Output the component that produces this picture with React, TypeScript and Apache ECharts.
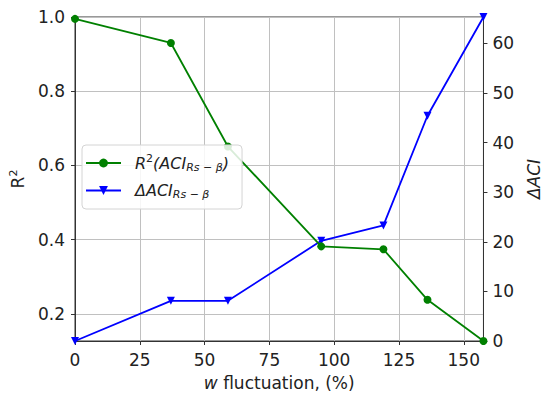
import { useEffect, useRef } from "react";
import * as echarts from "echarts";

const fluctuation = [0, 37, 59, 95, 119, 136, 157.6];
const r2Values = [0.995, 0.93, 0.651, 0.382, 0.374, 0.238, 0.127];
const deltaAci = [0, 8.1, 8.1, 20.2, 23.3, 45.4, 65.3];

const FONT = "DejaVu Sans";
const TEXT = "#222222";

const App: React.FC = () => {
  const chartRef = useRef<HTMLDivElement>(null);

  useEffect(() => {
    const chart = echarts.init(chartRef.current, null, { renderer: "svg" });

    const richLegend = {
      i: { fontSize: 16, fontStyle: "italic", fontFamily: FONT, color: TEXT, lineHeight: 20 },
      sup: { fontSize: 11, fontFamily: FONT, color: TEXT, padding: [0, 0, 9, 0] },
      sub: { fontSize: 11, fontStyle: "italic", fontFamily: FONT, color: TEXT, padding: [8, 0, 0, 0] },
      g: { width: 9 },
    };

    const options = {
      animation: false,
      grid: {
        left: 73,
        right: 62,
        top: 17,
        bottom: 60,
        show: true,
        borderColor: "#333",
        borderWidth: 1,
      },
      legend: {
        left: 82,
        top: 145,
        orient: "vertical",
        padding: [8, 13, 9, 3],
        itemWidth: 35,
        itemHeight: 11,
        itemGap: 10,
        backgroundColor: "rgba(255,255,255,0.85)",
        borderColor: "#d4d4d4",
        borderWidth: 1,
        borderRadius: 4,
        formatter: (name: string) =>
          name === "r2"
            ? "{g| }{i|R}{sup|2}{i|(ACI}{sub|Rs − β}{i|)}"
            : "{g| }{i|ΔACI}{sub|Rs − β}",
        textStyle: { rich: richLegend },
      },
      xAxis: {
        type: "value",
        min: 0,
        max: 157.6,
        interval: 25,
        name: "{i|w} fluctuation, (%)",
        nameLocation: "middle",
        nameGap: 33,
        nameTextStyle: {
          fontSize: 17,
          fontFamily: FONT,
          color: TEXT,
          rich: { i: { fontSize: 17, fontStyle: "italic", fontFamily: FONT, color: TEXT } },
        },
        axisLine: { lineStyle: { color: "#333" } },
        axisTick: { length: 4, lineStyle: { color: "#333" } },
        axisLabel: {
          showMaxLabel: false,
          margin: 10,
          fontSize: 17,
          fontFamily: FONT,
          color: TEXT,
        },
        splitLine: { lineStyle: { color: "#c0c0c0" } },
      },
      yAxis: [
        {
          type: "value",
          position: "left",
          min: 0.127,
          max: 1.0,
          splitNumber: 5,
          name: "R{sup|2}",
          nameLocation: "middle",
          nameRotate: 90,
          nameGap: 47,
          nameTextStyle: {
            fontSize: 17,
            fontFamily: FONT,
            color: TEXT,
            rich: { sup: { fontSize: 11, fontFamily: FONT, color: TEXT, padding: [0, 0, 9, 0] } },
          },
          axisLine: { show: true, lineStyle: { color: "#333" } },
          axisTick: { show: true, length: 4, lineStyle: { color: "#333" } },
          axisLabel: {
            showMinLabel: false,
            margin: 10,
            fontSize: 17,
            fontFamily: FONT,
            color: TEXT,
            formatter: (v: number) => v.toFixed(1),
          },
          splitLine: { lineStyle: { color: "#c0c0c0" } },
        },
        {
          type: "value",
          position: "right",
          min: 0,
          max: 65.3,
          interval: 10,
          name: "ΔACI",
          nameLocation: "middle",
          nameRotate: 90,
          nameGap: 37,
          nameTextStyle: {
            fontSize: 17,
            fontStyle: "italic",
            fontFamily: FONT,
            color: TEXT,
          },
          axisLine: { show: true, lineStyle: { color: "#333" } },
          axisTick: { show: true, length: 4, lineStyle: { color: "#333" } },
          axisLabel: {
            showMaxLabel: false,
            margin: 9,
            fontSize: 17,
            fontFamily: FONT,
            color: TEXT,
          },
          splitLine: { show: false },
        },
      ],
      series: [
        {
          name: "r2",
          type: "line",
          yAxisIndex: 0,
          data: fluctuation.map((x, i) => [x, r2Values[i]]),
          symbol: "circle",
          symbolSize: 8,
          lineStyle: { color: "#008000", width: 1.8 },
          itemStyle: { color: "#008000" },
          z: 3,
        },
        {
          name: "dAci",
          type: "line",
          yAxisIndex: 1,
          data: fluctuation.map((x, i) => [x, deltaAci[i]]),
          symbol: "triangle",
          symbolRotate: 180,
          symbolSize: 8,
          lineStyle: { color: "#0000ff", width: 1.8 },
          itemStyle: { color: "#0000ff" },
          z: 2,
        },
      ],
    };

    chart.setOption(options);

    return () => {
      chart.dispose();
    };
  }, []);

  return (
    <div
      ref={chartRef}
      style={{ position: "fixed", left: 0, top: 0, width: 550, height: 401, background: "#fff" }}
    />
  );
};

export default App;
